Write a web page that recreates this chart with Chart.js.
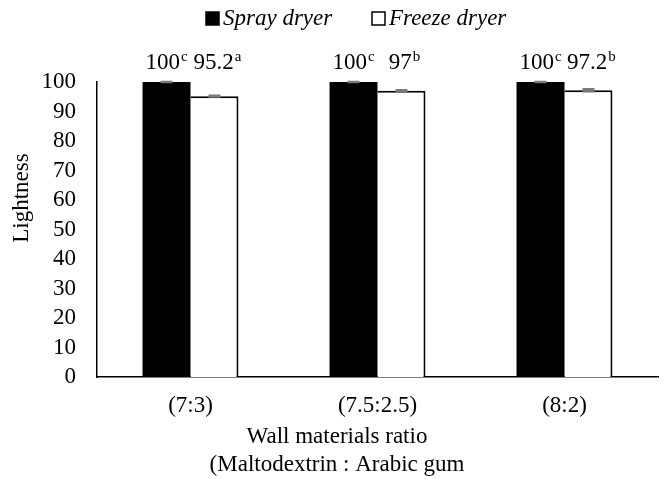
<!DOCTYPE html>
<html>
<head>
<meta charset="utf-8">
<script src="https://cdn.jsdelivr.net/npm/chart.js@4"></script>
<style>
  html, body { margin: 0; padding: 0; background: #fff; }
  #wrap { width: 671px; height: 479px; }
</style>
</head>
<body>
<div id="wrap"><canvas id="chart"></canvas></div>
<script>
// Data
const categories = ['(7:3)', '(7.5:2.5)', '(8:2)'];
const seriesNames = ['Spray dryer', 'Freeze dryer'];
const sprayValues = [100, 100, 100];
const freezeValues = [95.2, 97, 97.2];
const sprayErrors = [0.1, 0.1, 0.1];
const freezeErrors = [0.2, 0.3, 0.4];
const sprayLetters = ['c', 'c', 'c'];
const freezeLetters = ['a', 'b', 'b'];
const yTicks = [0, 10, 20, 30, 40, 50, 60, 70, 80, 90, 100];
const xTitleLines = ['Wall materials ratio', '(Maltodextrin : Arabic gum'];
const yTitle = 'Lightness';

const FONT = '"Liberation Serif", "Times New Roman", serif';

// Error bars, value labels (with superscript letters), legend and axis titles
const extrasPlugin = {
    id: 'extras',
    afterDatasetsDraw(chart) {
        const ctx = chart.ctx;
        const y = chart.scales.y;
        const errs = [sprayErrors, freezeErrors];
        const letters = [sprayLetters, freezeLetters];
        const labelShift = [0, 3];
        chart.data.datasets.forEach((ds, di) => {
            const meta = chart.getDatasetMeta(di);
            meta.data.forEach((bar, i) => {
                const v = ds.data[i];
                const e = errs[di][i];
                const top = y.getPixelForValue(v + e);
                const bot = y.getPixelForValue(v - e);
                ctx.save();
                ctx.strokeStyle = '#7a7a7a';
                ctx.lineWidth = 2;
                ctx.beginPath();
                ctx.moveTo(bar.x, top); ctx.lineTo(bar.x, bot);
                ctx.moveTo(bar.x - 6, top); ctx.lineTo(bar.x + 6, top);
                ctx.moveTo(bar.x - 6, bot); ctx.lineTo(bar.x + 6, bot);
                ctx.stroke();

                const main = String(v);
                const sup = letters[di][i];
                ctx.fillStyle = '#000';
                ctx.textBaseline = 'alphabetic';
                ctx.textAlign = 'left';
                ctx.font = '23px ' + FONT;
                const wMain = ctx.measureText(main).width;
                ctx.font = '15px ' + FONT;
                const wSup = ctx.measureText(sup).width;
                const total = wMain + 1 + wSup;
                const x0 = bar.x - total / 2 + labelShift[di];
                const base = y.getPixelForValue(100) - 13;
                ctx.font = '23px ' + FONT;
                ctx.fillText(main, x0, base);
                ctx.font = '15px ' + FONT;
                ctx.fillText(sup, x0 + wMain + 1, base - 8);
                ctx.restore();
            });
        });

        ctx.save();
        // legend
        ctx.font = 'italic 23px ' + FONT;
        ctx.textBaseline = 'alphabetic';
        ctx.textAlign = 'left';
        const legendX = [206, 372];
        chart.data.datasets.forEach((ds, di) => {
            const x = legendX[di];
            ctx.fillStyle = ds.backgroundColor;
            ctx.fillRect(x, 12, 13, 13);
            ctx.strokeStyle = '#000';
            ctx.lineWidth = 1.5;
            ctx.strokeRect(x, 12, 13, 13);
            ctx.fillStyle = '#000';
            ctx.fillText(seriesNames[di], x + 17, 25);
        });

        // axis titles
        ctx.fillStyle = '#000';
        ctx.font = '23px ' + FONT;
        ctx.textAlign = 'center';
        ctx.textBaseline = 'middle';
        ctx.fillText(xTitleLines[0], 337, 437);
        ctx.fillText(xTitleLines[1], 337, 465);
        ctx.translate(22, 198);
        ctx.rotate(-Math.PI / 2);
        ctx.fillText(yTitle, 0, 0);
        ctx.restore();
    }
};

new Chart(document.getElementById('chart'), {
    type: 'bar',
    data: {
        labels: categories,
        datasets: [{
            label: seriesNames[0],
            data: sprayValues,
            backgroundColor: '#000000',
            borderColor: '#000000',
            borderWidth: 0,
            categoryPercentage: 0.513,
            barPercentage: 1.0
        }, {
            label: seriesNames[1],
            data: freezeValues,
            backgroundColor: '#ffffff',
            borderColor: '#000000',
            borderWidth: { top: 2, right: 2, left: 0, bottom: 0 },
            categoryPercentage: 0.513,
            barPercentage: 1.0
        }]
    },
    options: {
        responsive: true,
        maintainAspectRatio: false,
        animation: false,
        layout: { padding: { top: 82, right: 13, left: 0, bottom: 0 } },
        plugins: {
            legend: { display: false },
            tooltip: { enabled: false }
        },
        scales: {
            x: {
                grid: { display: false, drawTicks: false },
                border: { color: '#000', width: 1.5 },
                ticks: { color: '#000', font: { family: FONT, size: 23 }, padding: 15 },
                afterFit(s) { s.height = 102; }
            },
            y: {
                min: 0,
                max: 100,
                grid: { display: false, drawTicks: false },
                border: { color: '#000', width: 1.5 },
                ticks: {
                    color: '#000',
                    font: { family: FONT, size: 23 },
                    padding: 21,
                    stepSize: 10,
                    autoSkip: false,
                    callback: (v) => yTicks.includes(v) ? v : ''
                },
                afterFit(s) { s.width = 97; }
            }
        }
    },
    plugins: [extrasPlugin]
});
</script>
</body>
</html>
